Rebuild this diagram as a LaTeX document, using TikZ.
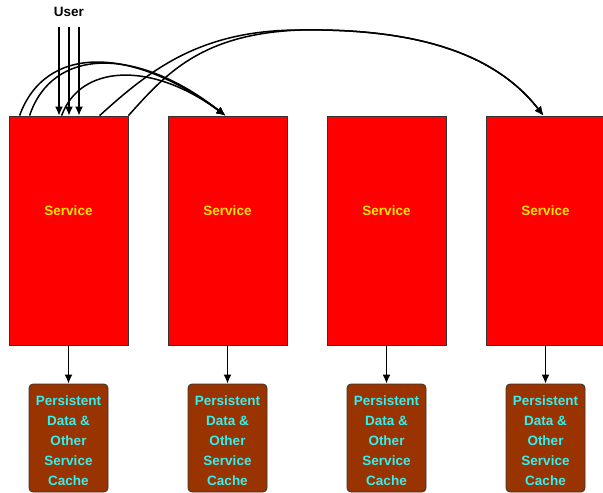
\documentclass[tikz,border=0pt]{standalone}
\usepackage{fontspec}
\setmainfont{Liberation Sans}
\usetikzlibrary{arrows.meta}
\definecolor{svcred}{RGB}{255,0,0}
\definecolor{svcyellow}{RGB}{255,230,0}
\definecolor{cachebrown}{RGB}{153,51,0}
\definecolor{cachecyan}{RGB}{51,240,240}
\newcommand{\cachetext}{\rule{0pt}{16pt}Persistent\\Data \&\\Other\\Service\\Cache}
\begin{document}
\begin{tikzpicture}[x=1pt,y=-1pt,
    service/.style={draw=black!80,line width=.8pt,fill=svcred,text=svcyellow,
      minimum width=119pt,minimum height=229pt,inner sep=0pt,text depth=40pt,
      font=\fontsize{13.5}{16}\selectfont\bfseries},
    cache/.style={draw=black!80,line width=.8pt,fill=cachebrown,text=cachecyan,
      rounded corners=4pt,minimum width=79pt,minimum height=108pt,inner sep=0pt,
      align=center,font=\fontsize{13.5}{20}\selectfont\bfseries},
    link/.style={line width=1.5pt,-{Latex[length=9pt,width=8pt]}}]
    \useasboundingbox (0,0) rectangle (603,493);

    \node (user) at (69,12) {\fontsize{13.5}{16}\selectfont\bfseries User};
    \coordinate (u1) at (59,27);
    \coordinate (u2) at (69,27);
    \coordinate (u3) at (79,27);

    \node (svc1) at (68.5,230.5) [service] {Service};
    \node (svc2) at (227.5,230.5) [service] {Service};
    \node (svc3) at (386.5,230.5) [service] {Service};
    \node (svc4) at (545.5,230.5) [service] {Service};

    \node (cache1) at (68.5,438) [cache] {\cachetext};
    \node (cache2) at (227.5,438) [cache] {\cachetext};
    \node (cache3) at (386.5,438) [cache] {\cachetext};
    \node (cache4) at (545.5,438) [cache] {\cachetext};

    % user requests
    \draw[link] (u1) to (u1 |- svc1.north);
    \draw[link] (u2) to (u2 |- svc1.north);
    \draw[link] (u3) to (u3 |- svc1.north);

    % service -> cache
    \foreach \i in {1,...,4}
      \draw[link] (svc\i.south) to (cache\i.north);

    % calls to second service
    \draw[link] ([xshift=11pt]svc1.north west) .. controls (45,45) and (130,45) .. ([xshift=-2pt]svc2.north);
    \draw[link] ([xshift=21pt]svc1.north west) .. controls (52,48) and (135,45) .. ([xshift=-2pt]svc2.north);
    \draw[link] ([xshift=53pt]svc1.north west) .. controls (80,65) and (150,60) .. ([xshift=-2pt]svc2.north);

    % calls to fourth service
    \draw[link] ([xshift=91pt]svc1.north west) .. controls (150,70) and (200,30) .. (300,30)
      .. controls (430,28) and (500,60) .. ([xshift=-2pt]svc4.north);
    \draw[link] (svc1.north east) .. controls (165,75) and (200,34) .. (300,30)
      .. controls (430,28) and (500,60) .. ([xshift=-2pt]svc4.north);
\end{tikzpicture}
\end{document}
